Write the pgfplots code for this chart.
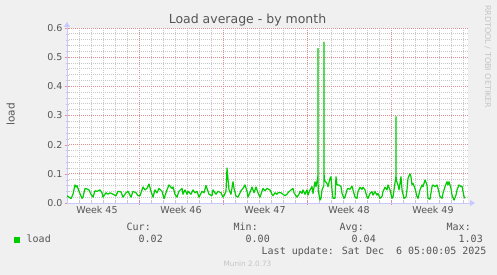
\documentclass[border=0pt]{standalone}
\usepackage{fontspec}
\setmainfont{DejaVu Sans}
\newfontfamily\mono{DejaVu Sans Mono}
\usepackage{pgfplots}
\pgfplotsset{compat=1.18}
\usetikzlibrary{arrows.meta}
\definecolor{bg}{HTML}{F0F0F0}
\definecolor{munintext}{HTML}{555555}
\definecolor{axisblue}{HTML}{C8C8FF}
\definecolor{majgrid}{HTML}{E09090}
\definecolor{mingrid}{HTML}{C8C8C8}
\definecolor{loadgreen}{HTML}{00CC00}
\definecolor{faint}{HTML}{C4C4C4}
\begin{document}
\begin{tikzpicture}
\useasboundingbox (0,0) rectangle (497bp,275bp);
\fill[bg] (0,0) rectangle (497bp,275bp);
\begin{axis}[
 at={(67bp,72bp)}, anchor=south west,
 scale only axis, width=401bp, height=175bp,
 xmin=67, xmax=468, ymin=0, ymax=0.6,
 axis x line=bottom, axis y line=left,
 axis line style={draw=axisblue, line width=0.8bp},
 x axis line style={-{Triangle[length=5bp,width=6bp]}, shorten >=-7bp},
 y axis line style={-{Triangle[length=5bp,width=6bp]}, shorten >=-6bp},
 axis background/.style={fill=white},
 xtick={139,223,307,391},
 xticklabels={},
 minor xtick={79,91,103,115,127,151,163,175,187,199,211,235,247,259,271,283,295,319,331,343,355,367,379,403,415,427,439,451,463},
 extra x ticks={97,181,265,349,433},
 extra x tick labels={Week 45,Week 46,Week 47,Week 48,Week 49},
 extra x tick style={grid=none, major tick length=0pt},
 ytick={0,0.1,0.2,0.3,0.4,0.5,0.6},
 minor y tick num=4,
 grid=both,
 major grid style={draw=majgrid, dash pattern=on 1bp off 1bp, line width=0.7bp},
 minor grid style={draw=mingrid, dash pattern=on 1bp off 1bp, line width=0.7bp},
 major tick style={draw=majgrid},
 minor tick style={draw=mingrid},
 major tick length=4bp, minor tick length=3bp, tick align=center,
 tick label style={font=\fontsize{9.5bp}{11bp}\selectfont, text=munintext},
 yticklabel style={xshift=1bp, /pgf/number format/fixed, /pgf/number format/fixed zerofill, /pgf/number format/precision=1, /pgf/number format/assume math mode=true},
]
\addplot[loadgreen, line width=1.2bp, mark=none, line join=round] coordinates {
(67,0.025)(69,0.02)(71,0.015)(73,0.03)(75,0.062)(76,0.055)(77,0.06)(79,0.04)(82,0.016)(83,0.02)
(85,0.05)(87,0.048)(89,0.045)(91,0.03)(93,0.02)(95,0.042)(97,0.04)(100,0.045)(102,0.035)(103,0.02)
(106,0.035)(108,0.03)(110,0.035)(113,0.03)(116,0.025)(118,0.04)(121,0.038)(123,0.02)(126,0.035)(128,0.04)
(131,0.02)(133,0.04)(136,0.035)(138,0.025)(140,0.025)(143,0.055)(145,0.045)(147,0.05)(149,0.065)(151,0.04)
(153,0.02)(155,0.045)(157,0.035)(159,0.05)(162,0.04)(164,0.015)(167,0.045)(169,0.062)(172,0.05)(173,0.055)
(175,0.03)(177,0.02)(179,0.04)(182,0.05)(183,0.03)(185,0.045)(187,0.03)(188,0.04)(191,0.03)(193,0.045)
(195,0.035)(197,0.04)(199,0.02)(202,0.04)(204,0.035)(206,0.06)(207,0.05)(209,0.03)(212,0.025)(213,0.045)
(216,0.03)(218,0.04)(221,0.035)(223,0.02)(224,0.025)(226,0.04)(227,0.12)(229,0.045)(231,0.03)(233,0.073)
(234,0.05)(236,0.024)(238,0.02)(241,0.042)(243,0.05)(245,0.062)(247,0.04)(248,0.02)(251,0.045)(252,0.055)
(254,0.035)(256,0.055)(258,0.035)(260,0.02)(262,0.04)(263,0.05)(265,0.042)(267,0.05)(268,0.048)(270,0.045)
(272,0.03)(273,0.025)(275,0.035)(277,0.03)(278,0.035)(281,0.035)(283,0.03)(285,0.025)(287,0.03)(288,0.035)
(291,0.045)(293,0.05)(294,0.035)(296,0.025)(297,0.02)(299,0.03)(300,0.04)(302,0.033)(303,0.045)(305,0.03)
(307,0.045)(308,0.027)(310,0.045)(312,0.056)(313,0.033)(315,0.073)(316,0.056)(317.85,0.09)(318,0.53)(318.15,0.045)
(320,0.01)(321,0.016)(322,0.045)(323.85,0.06)(324,0.551)(324.15,0.079)(327,0.067)(328,0.056)(330,0.085)(331,0.09)
(332,0.045)(333,0.016)(335,0.016)(336,0.09)(337,0.062)(339,0.062)(341,0.056)(342,0.033)(344,0.016)(345,0.02)
(347,0.045)(348,0.05)(350,0.047)(352,0.058)(353,0.045)(355,0.02)(357,0.016)(358,0.039)(360,0.054)(362,0.047)
(363,0.054)(365,0.045)(367,0.02)(368,0.016)(370,0.033)(372,0.039)(373,0.027)(375,0.039)(377,0.027)(378,0.033)
(380,0.016)(382,0.022)(383,0.039)(385,0.054)(387,0.045)(388,0.062)(390,0.045)(392,0.016)(393,0.02)(395.85,0.09)
(396,0.296)(396.15,0.079)(398,0.062)(399,0.045)(401,0.09)(402,0.045)(404,0.016)(406,0.02)(407,0.045)(408,0.085)
(410,0.1)(411,0.09)(412,0.062)(413,0.067)(415,0.05)(417,0.022)(418,0.016)(420,0.045)(422,0.062)(423,0.056)
(425,0.079)(427,0.062)(428,0.016)(430,0.013)(432,0.056)(433,0.062)(435,0.056)(437,0.062)(438,0.05)(440,0.022)
(442,0.016)(443,0.033)(445,0.056)(447,0.073)(448,0.062)(449,0.073)(451,0.05)(452,0.027)(454,0.01)(456,0.027)
(457,0.045)(459,0.062)(461,0.056)(462,0.058)(464,0.022)(465,0.016)
};
\end{axis}
\begin{scope}[shift={(0,275bp)}, x=1bp, y=-1bp]
\node[anchor=base, inner sep=0pt, text=munintext, font=\fontsize{12.5bp}{14bp}\selectfont] at (247.5,24) {Load average - by month};
\node[anchor=base, rotate=90, inner sep=0pt, text=munintext, font=\fontsize{10.5bp}{12bp}\selectfont] at (14.5,114.5) {load};
\node[anchor=base west, rotate=-90, inner sep=0pt, text=faint, font=\fontsize{8bp}{9bp}\selectfont] at (485,5) {RRDTOOL / TOBI OETIKER};
\fill[loadgreen] (14,237) rectangle (20,243);
\begin{scope}[every node/.style={anchor=base west, inner sep=0pt, text=munintext, font=\mono\fontsize{10bp}{12bp}\selectfont}]
\node at (26.5,243) {load};
\node at (126.5,231) {Cur:};
\node at (233.5,231) {Min:};
\node at (339.5,231) {Avg:};
\node at (446.5,231) {Max:};
\node at (138.5,243) {0.02};
\node at (245.5,243) {0.00};
\node at (351.5,243) {0.04};
\node at (458.5,243) {1.03};
\node at (261.5,255) {Last update: Sat Dec\ \ 6 05:00:05 2025};
\end{scope}
\node[anchor=base, inner sep=0pt, text=faint, font=\fontsize{7.3bp}{9bp}\selectfont] at (247.5,267) {Munin 2.0.73};
\end{scope}
\end{tikzpicture}
\end{document}
